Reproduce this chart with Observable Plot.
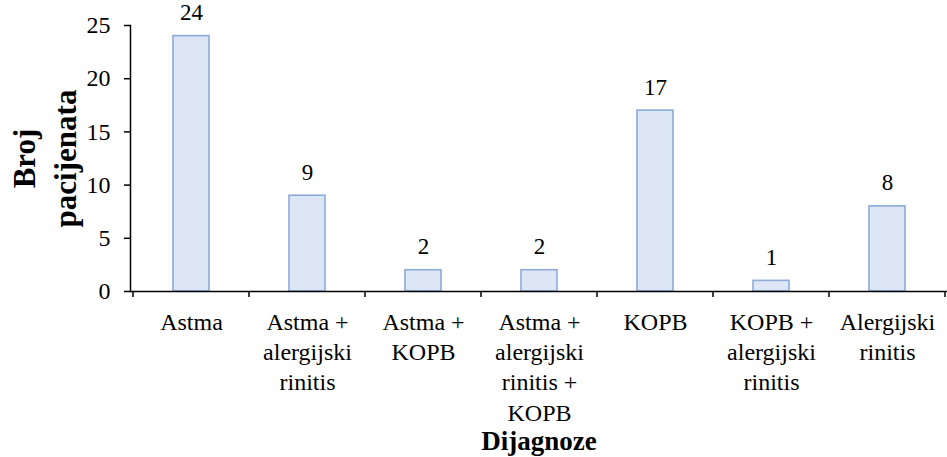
<!DOCTYPE html>
<html><head><meta charset="utf-8">
<script src="https://cdn.jsdelivr.net/npm/d3@7"></script>
<script src="https://cdn.jsdelivr.net/npm/@observablehq/plot@0.6"></script>
<style>body{margin:0;background:#fff}</style>
</head><body><div id="chart"></div>
<script>
const categories = ["Astma", "Astma +\nalergijski\nrinitis", "Astma +\nKOPB", "Astma +\nalergijski\nrinitis +\nKOPB", "KOPB", "KOPB +\nalergijski\nrinitis", "Alergijski\nrinitis"];
const values = [24, 9, 2, 2, 17, 1, 8];
const yTicks = [0, 5, 10, 15, 20, 25];
const yTitle = "Broj\npacijenata";
const xTitle = "Dijagnoze";

const data = categories.map((c, i) => ({category: c, value: values[i]}));
const FONT = "Liberation Serif";

function boundaryTicks(index, scales, vals, dimensions) {
  const {width, height, marginLeft, marginRight, marginBottom} = dimensions;
  const x = scales.x;
  const n = categories.length;
  const y0 = height - marginBottom;
  let xs;
  if (x && typeof x.step === "function") {
    const step = x.step(), bw = x.bandwidth();
    xs = categories.map(c => x(c) - (step - bw) / 2);
    xs.push(xs[xs.length - 1] + step);
  } else {
    const step = (width - marginLeft - marginRight) / n;
    xs = d3.range(n + 1).map(i => marginLeft + i * step);
  }
  const g = d3.create("svg:g").attr("stroke", "#000").attr("stroke-width", 1.5);
  for (const bx of xs) g.append("line").attr("x1", bx).attr("x2", bx).attr("y1", y0).attr("y2", y0 + 6);
  return g.node();
}

const chart = Plot.plot({
  width: 947, height: 457,
  marginLeft: 130, marginRight: 0, marginTop: 25, marginBottom: 166,
  x: {domain: categories, paddingInner: 0.69, paddingOuter: 0.345, axis: null},
  y: {domain: [0, 25], axis: null},
  marks: [
    Plot.barY(data, {x: "category", y: "value", fill: "#dce6f4", stroke: "#8eaadb", strokeWidth: 1.6}),
    Plot.axisY({ticks: yTicks, tickSize: 6, tickPadding: 14, label: null, fontSize: 24, strokeWidth: 1.5, color: "#000"}),
    Plot.axisX({tickSize: 0, tickPadding: 17, label: null, lineHeight: 1.26, fontSize: 24, color: "#000"}),
    Plot.ruleY([0], {strokeWidth: 1.5, stroke: "#000"}),
    Plot.frame({anchor: "left", strokeWidth: 1.5, stroke: "#000"}),
    boundaryTicks,
    Plot.text(data, {x: "category", y: "value", text: d => String(d.value), dy: -16, lineAnchor: "bottom", fontSize: 23, fill: "#000"}),
    Plot.text([yTitle], {frameAnchor: "left", dx: -88, rotate: -90, fontWeight: "bold", fontSize: 31, lineHeight: 1.3, lineAnchor: "middle", textAnchor: "middle", fill: "#000"}),
    Plot.text([xTitle], {frameAnchor: "bottom", dy: 150, fontWeight: "bold", fontSize: 27, lineAnchor: "middle", fill: "#000"})
  ]
});
chart.setAttribute("font-family", FONT);
chart.querySelectorAll("text").forEach(t => t.setAttribute("font-family", FONT));
document.getElementById("chart").appendChild(chart);
</script>
</body></html>
